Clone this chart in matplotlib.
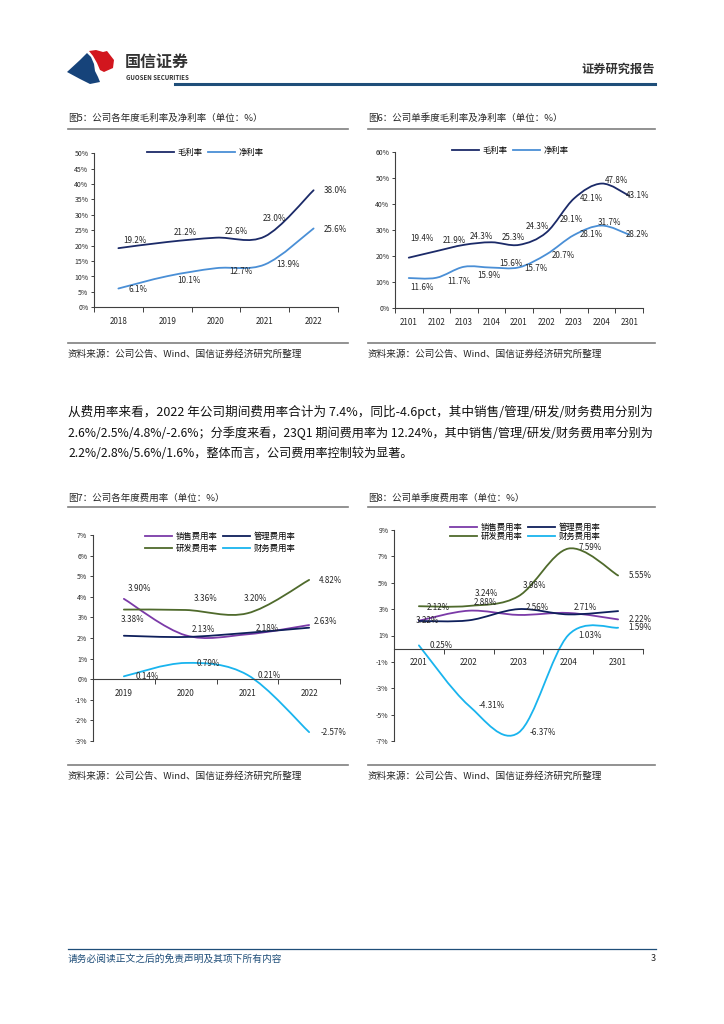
import numpy as np
import matplotlib
matplotlib.use('Agg')
import matplotlib.pyplot as plt
from matplotlib.path import Path
from matplotlib.patches import PathPatch, Polygon
from matplotlib.lines import Line2D

plt.rcParams['font.family'] = ['Noto Sans CJK SC', 'DejaVu Sans']
plt.rcParams['axes.unicode_minus'] = False

# ---- 数据 ----
years5 = ['2018', '2019', '2020', '2021', '2022']
gm_year = [19.2, 21.2, 22.6, 23.0, 38.0]      # 毛利率
nm_year = [6.1, 10.1, 12.7, 13.9, 25.6]       # 净利率

quarters6 = ['2101', '2102', '2103', '2104', '2201', '2202', '2203', '2204', '2301']
gm_q = [19.4, 21.9, 24.3, 25.3, 24.3, 29.1, 42.1, 47.8, 43.1]
nm_q = [11.6, 11.7, 15.9, 15.6, 15.7, 20.7, 28.1, 31.7, 28.2]

years7 = ['2019', '2020', '2021', '2022']
sell_y = [3.90, 2.13, 2.18, 2.63]    # 销售费用率
admin_y = [2.11, 2.05, 2.25, 2.50]   # 管理费用率(图中无标签, 估读)
rd_y = [3.38, 3.36, 3.20, 4.82]      # 研发费用率
fin_y = [0.14, 0.79, 0.21, -2.57]    # 财务费用率

quarters8 = ['2201', '2202', '2203', '2204', '2301']
sell_q = [2.12, 2.88, 2.56, 2.71, 2.22]
admin_q = [2.10, 2.15, 3.00, 2.60, 2.85]
rd_q = [3.22, 3.24, 3.98, 7.59, 5.55]
fin_q = [0.25, -4.31, -6.37, 1.03, 1.59]

# 颜色
NAVY = '#1B2A68'
BLUE = '#4A8FD6'
PURPLE = '#7B3AA8'
DNAVY = '#0E1F5B'
GREEN = '#4F6A2C'
CYAN = '#19B4EE'
TXT = '#262626'

W, H = 724, 1024
fig = plt.figure(figsize=(W / 100, H / 100), dpi=100)


def fx(x):
    return x / W


def fy(y):
    return 1 - y / H


def ftext(x, y, s, **kw):
    return fig.text(fx(x), fy(y), s, **kw)


def fline(x0, x1, y, color='#7f7f7f', lw=1.2):
    fig.add_artist(Line2D([fx(x0), fx(x1)], [fy(y), fy(y)], transform=fig.transFigure,
                          color=color, lw=lw))


def add_ax(l, r, t, b):
    return fig.add_axes([fx(l), fy(b), (r - l) / W, (b - t) / H])


def smooth(ax, ys, color, lw=1.3):
    # Excel风格平滑线: 三次贝塞尔曲线
    pts = np.column_stack([np.arange(len(ys)), ys]).astype(float)
    n = len(pts)
    verts = [pts[0]]
    codes = [Path.MOVETO]
    for i in range(n - 1):
        p0 = pts[i - 1] if i > 0 else pts[i]
        p1, p2 = pts[i], pts[i + 1]
        p3 = pts[i + 2] if i + 2 < n else pts[i + 1]
        verts += [p1 + (p2 - p0) / 6, p2 - (p3 - p1) / 6, p2]
        codes += [Path.CURVE4] * 3
    ax.add_patch(PathPatch(Path(verts, codes), fill=False, edgecolor=color, lw=lw,
                           capstyle='round', joinstyle='round'))


def labels(ax, ys, offs, fmt):
    # offs: 标签相对数据点的像素偏移(右, 下)
    for i, (v, o) in enumerate(zip(ys, offs)):
        ax.annotate(fmt.format(v), (i, v), xytext=(o[0], -o[1]), textcoords='offset pixels',
                    ha='center', va='center', fontsize=5.8, color=TXT)


def setup(ax, cats, ylim, yticks, zero_axis=False):
    n = len(cats)
    ax.set_xlim(-0.5, n - 0.5)
    ax.set_ylim(*ylim)
    ax.patch.set_alpha(0)
    for s in ['top', 'right']:
        ax.spines[s].set_visible(False)
    for s in ['left', 'bottom']:
        ax.spines[s].set_color('#404040')
        ax.spines[s].set_linewidth(0.8)
    if zero_axis:
        ax.spines['bottom'].set_position(('data', 0))
    ax.set_yticks(yticks)
    ax.set_yticklabels([f'{t}%' for t in yticks])
    ax.set_xticks(range(n))
    ax.set_xticklabels(cats)
    ax.set_xticks(np.arange(-0.5, n, 1), minor=True)
    ax.tick_params(axis='y', direction='out', length=2.5, width=0.7, pad=1.5,
                   labelsize=5, colors='#404040', labelcolor=TXT)
    ax.tick_params(axis='x', which='major', length=0, pad=7, labelsize=5.8, labelcolor=TXT)
    ax.tick_params(axis='x', which='minor', direction='out', length=3.5, width=0.7,
                   colors='#404040')


def legend(handles, names, cx, cy, ncol, spacing=0.3):
    fig.legend(handles, names, loc='center', bbox_to_anchor=(fx(cx), fy(cy)),
               ncol=ncol, frameon=False, fontsize=6, handlelength=3.3,
               handletextpad=0.4, columnspacing=0.6, labelspacing=spacing,
               borderpad=0, borderaxespad=0)


def L(c):
    return Line2D([], [], color=c, lw=1.3)


# ---- 页眉 ----
blue_shape = [(67, 72), (80, 60), (87, 53), (91, 57), (94, 64), (95, 71), (98, 77), (100, 82),
              (90, 84), (80, 79)]
red_shape = [(89, 51), (96, 50), (103, 52), (107, 51), (114, 60), (113, 68), (104, 72), (100, 70),
             (97, 63), (93, 56)]
fig.add_artist(Polygon([(fx(x), fy(y)) for x, y in blue_shape], closed=True,
                       transform=fig.transFigure, color='#16437A', lw=0))
fig.add_artist(Polygon([(fx(x), fy(y)) for x, y in red_shape], closed=True,
                       transform=fig.transFigure, color='#D2161E', lw=0))
ftext(125, 62, '国信证券', fontsize=11.5, fontweight='bold', color='#333333', va='center')
ftext(126, 77.5, 'GUOSEN SECURITIES', fontsize=4.4, fontweight='bold', color='#333333', va='center')
ftext(655, 69, '证券研究报告', fontsize=8.8, fontweight='bold', color='#333333', va='center', ha='right')
fline(175, 655, 83.5, color='#1F4E79', lw=2.2)

# ---- 标题与来源 ----
titles = ['图5：公司各年度毛利率及净利率（单位：%）', '图6：公司单季度毛利率及净利率（单位：%）',
          '图7：公司各年度费用率（单位：%）', '图8：公司单季度费用率（单位：%）']
src = '资料来源：公司公告、Wind、国信证券经济研究所整理'
for k, (x0, x1) in enumerate([(68, 348), (368, 655)]):
    ftext(x0, 118.5, titles[k], fontsize=6.8, color=TXT, va='center')
    fline(x0, x1, 128.5)
    fline(x0, x1, 342.5)
    ftext(x0, 354, src, fontsize=6.9, color=TXT, va='center')
    ftext(x0, 498.5, titles[k + 2], fontsize=6.8, color=TXT, va='center')
    fline(x0, x1, 507)
    fline(x0, x1, 765)
    ftext(x0, 776.5, src, fontsize=6.9, color=TXT, va='center')

# ---- 正文(前两行两端对齐: 调整字号铺满 68-652) ----
para = ['从费用率来看，2022 年公司期间费用率合计为 7.4%，同比-4.6pct，其中销售/管理/研发/财务费用分别为',
        '2.6%/2.5%/4.8%/-2.6%；分季度来看，23Q1 期间费用率为 12.24%，其中销售/管理/研发/财务费用率分别为',
        '2.2%/2.8%/5.6%/1.6%，整体而言，公司费用率控制较为显著。']
renderer = fig.canvas.get_renderer()
sizes = []
for k, s in enumerate(para):
    t = ftext(68, 412 + k * 20.8, s, fontsize=9.0, color='#111111', va='center')
    if k < 2:
        w = t.get_window_extent(renderer).width
        t.set_fontsize(9.0 * 584 / w)
        sizes.append(9.0 * 584 / w)
    else:
        t.set_fontsize(min(sizes))

# ---- 图5 ----
f1 = '{:.1f}%'
f2 = '{:.2f}%'
ax5 = add_ax(94, 338, 153.3, 307.3)
setup(ax5, years5, (0, 50), list(range(0, 51, 5)))
smooth(ax5, gm_year, NAVY)
smooth(ax5, nm_year, BLUE)
labels(ax5, gm_year, [(17, -8), (18, -10), (20, -6), (10, -18), (22, 0)], f1)
labels(ax5, nm_year, [(20, 1), (22, 4), (25, 3), (23, 0), (22, 1)], f1)
legend([L(NAVY), L(BLUE)], ['毛利率', '净利率'], 205, 152, 2)

# ---- 图6 ----
ax6 = add_ax(395, 643, 151.7, 308.3)
setup(ax6, quarters6, (0, 60), list(range(0, 61, 10)))
smooth(ax6, gm_q, NAVY)
smooth(ax6, nm_q, BLUE)
labels(ax6, gm_q, [(13, -19), (18, -11), (18, -8), (22, -5), (18, -18),
                   (25, -13), (17, 0), (15, -3), (8, 0)], f1)
labels(ax6, nm_q, [(13, 9), (23, 4), (25, 9), (20, -4), (17, 1),
                   (17, 1), (17, 0), (8, -3), (8, 0)], f1)
legend([L(NAVY), L(BLUE)], ['毛利率', '净利率'], 510, 150, 2)

# ---- 图7 ----
ax7 = add_ax(93, 340, 535, 741)
setup(ax7, years7, (-3, 7), list(range(-3, 8)), zero_axis=True)
smooth(ax7, sell_y, PURPLE)
smooth(ax7, admin_y, DNAVY)
smooth(ax7, rd_y, GREEN)
smooth(ax7, fin_y, CYAN)
labels(ax7, sell_y, [(16, -10), (18, -6), (20, -6), (16, -4)], f2)
labels(ax7, rd_y, [(9, 10), (20, -11), (8, -15), (21, 1)], f2)
labels(ax7, fin_y, [(23, 0), (23, 1), (22, 1), (24, 0)], f2)
legend([L(PURPLE), L(GREEN), L(DNAVY), L(CYAN)],
       ['销售费用率', '研发费用率', '管理费用率', '财务费用率'], 220, 542.5, 2, spacing=0.3)

# ---- 图8 ----
ax8 = add_ax(394, 643, 530, 741)
setup(ax8, quarters8, (-7, 9), list(range(-7, 10, 2)), zero_axis=True)
smooth(ax8, sell_q, PURPLE)
smooth(ax8, admin_q, DNAVY)
smooth(ax8, rd_q, GREEN)
smooth(ax8, fin_q, CYAN)
labels(ax8, rd_q, [(8, 14), (18, -12), (16, -11), (22, -1), (22, 0)], f2)
labels(ax8, sell_q, [(19, -13), (17, -8), (19, -7), (17, -5), (22, 0)], f2)
labels(ax8, fin_q, [(22, 0), (23, 0), (24, 0), (22, 0), (22, 0)], f2)
legend([L(PURPLE), L(GREEN), L(DNAVY), L(CYAN)],
       ['销售费用率', '研发费用率', '管理费用率', '财务费用率'], 525, 532, 2, spacing=-0.05)

# ---- 页脚 ----
fline(68, 656, 949, color='#1F4E79', lw=0.9)
ftext(68, 958.5, '请务必阅读正文之后的免责声明及其项下所有内容', fontsize=7.0, color='#1F4E79',
      va='center')
ftext(656, 958.5, '3', fontsize=6.5, color='#222222', va='center', ha='right')

fig.savefig('out.png', dpi=100)
